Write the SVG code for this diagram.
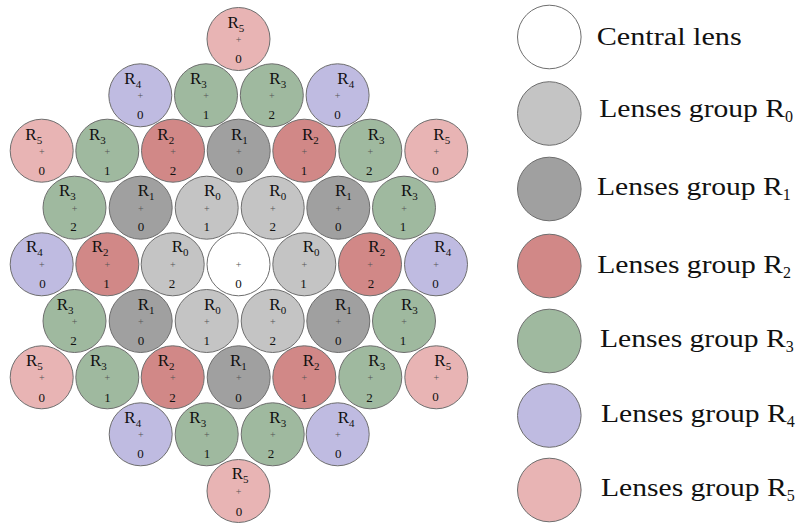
<svg xmlns="http://www.w3.org/2000/svg" width="798" height="523" viewBox="0 0 798 523">
<style>
circle{stroke:#6e6e6e;stroke-width:1}
.c{fill:#ffffff}.r0{fill:#c4c4c4}.r1{fill:#a0a0a0}.r2{fill:#d18887}.r3{fill:#9fb99f}.r4{fill:#bfbbe1}.r5{fill:#e8b4b4}
text{font-family:"Liberation Serif","Times New Roman",serif;fill:#111}
.lb{font-size:17px}
.sb{font-size:11px}
.pl{font-size:10px;fill:#555;text-anchor:middle}
.nm{font-size:13px;text-anchor:middle}
.lg{font-size:25px}
.lgs{font-size:16px}
</style>
<g id="lenses">
<g id="n0"><circle class="r5" cx="238.5" cy="39" r="31.5"/><text class="lb" x="227.5" y="28"><tspan>R</tspan><tspan class="sb" dy="4">5</tspan></text><text class="pl" x="238.5" y="43">+</text><text class="nm" x="238.5" y="63">0</text></g>

<g id="n1"><circle class="r4" cx="140.3" cy="95.3" r="31.5"/><text class="lb" x="124.3" y="83.8"><tspan>R</tspan><tspan class="sb" dy="4">4</tspan></text><text class="pl" x="140.3" y="99.3">+</text><text class="nm" x="140.3" y="119.3">0</text></g>
<g id="n2"><circle class="r3" cx="206" cy="95.3" r="31.5"/><text class="lb" x="190" y="83.8"><tspan>R</tspan><tspan class="sb" dy="4">3</tspan></text><text class="pl" x="206" y="99.3">+</text><text class="nm" x="206" y="119.3">1</text></g>
<g id="n3"><circle class="r3" cx="271.8" cy="95.3" r="31.5"/><text class="lb" x="269.3" y="83.8"><tspan>R</tspan><tspan class="sb" dy="4">3</tspan></text><text class="pl" x="271.8" y="99.3">+</text><text class="nm" x="271.8" y="119.3">2</text></g>
<g id="n4"><circle class="r4" cx="337.6" cy="95.3" r="31.5"/><text class="lb" x="337.3" y="83.8"><tspan>R</tspan><tspan class="sb" dy="4">4</tspan></text><text class="pl" x="337.6" y="99.3">+</text><text class="nm" x="337.6" y="119.3">0</text></g>

<g id="n5"><circle class="r5" cx="41.7" cy="150.7" r="31.5"/><text class="lb" x="25.3" y="139.7"><tspan>R</tspan><tspan class="sb" dy="4">5</tspan></text><text class="pl" x="41.7" y="154.7">+</text><text class="nm" x="41.7" y="175">0</text></g>
<g id="n6"><circle class="r3" cx="107.3" cy="150.7" r="31.5"/><text class="lb" x="89" y="139.7"><tspan>R</tspan><tspan class="sb" dy="4">3</tspan></text><text class="pl" x="107.3" y="154.7">+</text><text class="nm" x="107.3" y="175">1</text></g>
<g id="n7"><circle class="r2" cx="173" cy="150.7" r="31.5"/><text class="lb" x="157.3" y="139.7"><tspan>R</tspan><tspan class="sb" dy="4">2</tspan></text><text class="pl" x="173" y="154.7">+</text><text class="nm" x="173" y="175">2</text></g>
<g id="n8"><circle class="r1" cx="238.7" cy="150.7" r="31.5"/><text class="lb" x="231" y="139.7"><tspan>R</tspan><tspan class="sb" dy="4">1</tspan></text><text class="pl" x="238.7" y="154.7">+</text><text class="nm" x="239.5" y="175">0</text></g>
<g id="n9"><circle class="r2" cx="304.3" cy="150.7" r="31.5"/><text class="lb" x="302" y="139.7"><tspan>R</tspan><tspan class="sb" dy="4">2</tspan></text><text class="pl" x="304.3" y="154.7">+</text><text class="nm" x="304" y="175">1</text></g>
<g id="n10"><circle class="r3" cx="370.3" cy="150.7" r="31.5"/><text class="lb" x="367.7" y="139.7"><tspan>R</tspan><tspan class="sb" dy="4">3</tspan></text><text class="pl" x="370.3" y="154.7">+</text><text class="nm" x="369.3" y="175">2</text></g>
<g id="n11"><circle class="r5" cx="436.3" cy="150.7" r="31.5"/><text class="lb" x="433.3" y="139.7"><tspan>R</tspan><tspan class="sb" dy="4">5</tspan></text><text class="pl" x="436.3" y="154.7">+</text><text class="nm" x="435.5" y="175">0</text></g>

<g id="n12"><circle class="r3" cx="74.5" cy="207.7" r="31.5"/><text class="lb" x="59" y="196"><tspan>R</tspan><tspan class="sb" dy="4">3</tspan></text><text class="pl" x="74.5" y="211.7">+</text><text class="nm" x="73.5" y="230.5">2</text></g>
<g id="n13"><circle class="r1" cx="140.7" cy="207.7" r="31.5"/><text class="lb" x="137.7" y="196"><tspan>R</tspan><tspan class="sb" dy="4">1</tspan></text><text class="pl" x="140.7" y="211.7">+</text><text class="nm" x="141" y="230.5">0</text></g>
<g id="n14"><circle class="r0" cx="206.7" cy="207.7" r="31.5"/><text class="lb" x="204" y="196"><tspan>R</tspan><tspan class="sb" dy="4">0</tspan></text><text class="pl" x="206.7" y="211.7">+</text><text class="nm" x="206.7" y="230.5">1</text></g>
<g id="n15"><circle class="r0" cx="272.7" cy="207.7" r="31.5"/><text class="lb" x="269.3" y="196"><tspan>R</tspan><tspan class="sb" dy="4">0</tspan></text><text class="pl" x="272.7" y="211.7">+</text><text class="nm" x="272.7" y="230.5">2</text></g>
<g id="n16"><circle class="r1" cx="338.3" cy="207.7" r="31.5"/><text class="lb" x="335" y="196"><tspan>R</tspan><tspan class="sb" dy="4">1</tspan></text><text class="pl" x="338.3" y="211.7">+</text><text class="nm" x="338.3" y="230.5">0</text></g>
<g id="n17"><circle class="r3" cx="404" cy="207.7" r="31.5"/><text class="lb" x="401" y="196"><tspan>R</tspan><tspan class="sb" dy="4">3</tspan></text><text class="pl" x="404" y="211.7">+</text><text class="nm" x="403" y="230.5">1</text></g>

<g id="n18"><circle class="r4" cx="41.7" cy="264.3" r="31.5"/><text class="lb" x="26" y="252"><tspan>R</tspan><tspan class="sb" dy="4">4</tspan></text><text class="pl" x="41.7" y="268.3">+</text><text class="nm" x="42.5" y="288.3">0</text></g>
<g id="n19"><circle class="r2" cx="107.3" cy="264.3" r="31.5"/><text class="lb" x="91.7" y="252"><tspan>R</tspan><tspan class="sb" dy="4">2</tspan></text><text class="pl" x="107.3" y="268.3">+</text><text class="nm" x="106.5" y="288.3">1</text></g>
<g id="n20"><circle class="r0" cx="172.7" cy="264.3" r="31.5"/><text class="lb" x="171.7" y="252"><tspan>R</tspan><tspan class="sb" dy="4">0</tspan></text><text class="pl" x="172.7" y="268.3">+</text><text class="nm" x="172" y="288.3">2</text></g>
<g id="n21"><circle class="c" cx="238.5" cy="264.3" r="31.5"/><text class="pl" x="238.5" y="268.3">+</text><text class="nm" x="238.5" y="288.3">0</text></g>
<g id="n22"><circle class="r0" cx="304.3" cy="264.3" r="31.5"/><text class="lb" x="302.7" y="252"><tspan>R</tspan><tspan class="sb" dy="4">0</tspan></text><text class="pl" x="304.3" y="268.3">+</text><text class="nm" x="303.5" y="288.3">1</text></g>
<g id="n23"><circle class="r2" cx="370" cy="264.3" r="31.5"/><text class="lb" x="368.3" y="252"><tspan>R</tspan><tspan class="sb" dy="4">2</tspan></text><text class="pl" x="370" y="268.3">+</text><text class="nm" x="371" y="288.3">2</text></g>
<g id="n24"><circle class="r4" cx="436" cy="264.3" r="31.5"/><text class="lb" x="434.3" y="252"><tspan>R</tspan><tspan class="sb" dy="4">4</tspan></text><text class="pl" x="436" y="268.3">+</text><text class="nm" x="435.5" y="288.3">0</text></g>

<g id="n25"><circle class="r3" cx="74.5" cy="321" r="31.5"/><text class="lb" x="56.7" y="309.5"><tspan>R</tspan><tspan class="sb" dy="4">3</tspan></text><text class="pl" x="74.5" y="325">+</text><text class="nm" x="73.5" y="344.5">2</text></g>
<g id="n26"><circle class="r1" cx="140.7" cy="321" r="31.5"/><text class="lb" x="137.7" y="309.5"><tspan>R</tspan><tspan class="sb" dy="4">1</tspan></text><text class="pl" x="140.7" y="325">+</text><text class="nm" x="141" y="344.5">0</text></g>
<g id="n27"><circle class="r0" cx="206.7" cy="321" r="31.5"/><text class="lb" x="204" y="309.5"><tspan>R</tspan><tspan class="sb" dy="4">0</tspan></text><text class="pl" x="206.7" y="325">+</text><text class="nm" x="206.7" y="344.5">1</text></g>
<g id="n28"><circle class="r0" cx="272.7" cy="321" r="31.5"/><text class="lb" x="269.3" y="309.5"><tspan>R</tspan><tspan class="sb" dy="4">0</tspan></text><text class="pl" x="272.7" y="325">+</text><text class="nm" x="272.7" y="344.5">2</text></g>
<g id="n29"><circle class="r1" cx="338.3" cy="321" r="31.5"/><text class="lb" x="335" y="309.5"><tspan>R</tspan><tspan class="sb" dy="4">1</tspan></text><text class="pl" x="338.3" y="325">+</text><text class="nm" x="338.3" y="344.5">0</text></g>
<g id="n30"><circle class="r3" cx="404" cy="321" r="31.5"/><text class="lb" x="401" y="309.5"><tspan>R</tspan><tspan class="sb" dy="4">3</tspan></text><text class="pl" x="404" y="325">+</text><text class="nm" x="403" y="344.5">1</text></g>

<g id="n31"><circle class="r5" cx="41.7" cy="377.3" r="31.5"/><text class="lb" x="26" y="366"><tspan>R</tspan><tspan class="sb" dy="4">5</tspan></text><text class="pl" x="41.7" y="381.3">+</text><text class="nm" x="41.7" y="401.7">0</text></g>
<g id="n32"><circle class="r3" cx="107.3" cy="377.3" r="31.5"/><text class="lb" x="90" y="366"><tspan>R</tspan><tspan class="sb" dy="4">3</tspan></text><text class="pl" x="107.3" y="381.3">+</text><text class="nm" x="107.5" y="401.7">1</text></g>
<g id="n33"><circle class="r2" cx="172.7" cy="377.3" r="31.5"/><text class="lb" x="157.7" y="366"><tspan>R</tspan><tspan class="sb" dy="4">2</tspan></text><text class="pl" x="172.7" y="381.3">+</text><text class="nm" x="172.5" y="401.7">2</text></g>
<g id="n34"><circle class="r1" cx="238.7" cy="377.3" r="31.5"/><text class="lb" x="230" y="366"><tspan>R</tspan><tspan class="sb" dy="4">1</tspan></text><text class="pl" x="238.7" y="381.3">+</text><text class="nm" x="238.5" y="401.7">0</text></g>
<g id="n35"><circle class="r2" cx="304.3" cy="377.3" r="31.5"/><text class="lb" x="302.7" y="366"><tspan>R</tspan><tspan class="sb" dy="4">2</tspan></text><text class="pl" x="304.3" y="381.3">+</text><text class="nm" x="304" y="401.7">1</text></g>
<g id="n36"><circle class="r3" cx="370.3" cy="377.3" r="31.5"/><text class="lb" x="368.3" y="366"><tspan>R</tspan><tspan class="sb" dy="4">3</tspan></text><text class="pl" x="370.3" y="381.3">+</text><text class="nm" x="369.5" y="401.7">2</text></g>
<g id="n37"><circle class="r5" cx="436.3" cy="377.3" r="31.5"/><text class="lb" x="434.3" y="366"><tspan>R</tspan><tspan class="sb" dy="4">5</tspan></text><text class="pl" x="436.3" y="381.3">+</text><text class="nm" x="435.5" y="400.5">0</text></g>

<g id="n38"><circle class="r4" cx="140.7" cy="434.3" r="31.5"/><text class="lb" x="124.3" y="422.7"><tspan>R</tspan><tspan class="sb" dy="4">4</tspan></text><text class="pl" x="140.7" y="438.3">+</text><text class="nm" x="140.5" y="458.3">0</text></g>
<g id="n39"><circle class="r3" cx="206.7" cy="434.3" r="31.5"/><text class="lb" x="189.3" y="422.7"><tspan>R</tspan><tspan class="sb" dy="4">3</tspan></text><text class="pl" x="206.7" y="438.3">+</text><text class="nm" x="207" y="458.3">1</text></g>
<g id="n40"><circle class="r3" cx="272.7" cy="434.3" r="31.5"/><text class="lb" x="269.3" y="422.7"><tspan>R</tspan><tspan class="sb" dy="4">3</tspan></text><text class="pl" x="272.7" y="438.3">+</text><text class="nm" x="271" y="458.3">2</text></g>
<g id="n41"><circle class="r4" cx="337.7" cy="434.3" r="31.5"/><text class="lb" x="337.7" y="422.7"><tspan>R</tspan><tspan class="sb" dy="4">4</tspan></text><text class="pl" x="337.7" y="438.3">+</text><text class="nm" x="338.3" y="458.3">0</text></g>

<g id="n42"><circle class="r5" cx="238.5" cy="491" r="31.5"/><text class="lb" x="231.7" y="479.3"><tspan>R</tspan><tspan class="sb" dy="4">5</tspan></text><text class="pl" x="238.5" y="495">+</text><text class="nm" x="239" y="516">0</text></g>
</g>

<g id="legend">
<g id="lg-c"><circle class="c" cx="549.3" cy="37" r="31.8"/><text class="lg" x="596.7" y="45" textLength="145" lengthAdjust="spacingAndGlyphs">Central lens</text></g>
<g id="lg-r0"><circle class="r0" cx="549.3" cy="113.5" r="31.8"/><text class="lg" x="599.3" y="117" textLength="185.7" lengthAdjust="spacingAndGlyphs">Lenses group R</text><text class="lgs" x="785" y="122">0</text></g>
<g id="lg-r1"><circle class="r1" cx="549.3" cy="189" r="31.8"/><text class="lg" x="597" y="195" textLength="185.7" lengthAdjust="spacingAndGlyphs">Lenses group R</text><text class="lgs" x="782.7" y="200">1</text></g>
<g id="lg-r2"><circle class="r2" cx="549.3" cy="266" r="31.8"/><text class="lg" x="597.3" y="273" textLength="185.7" lengthAdjust="spacingAndGlyphs">Lenses group R</text><text class="lgs" x="783" y="278">2</text></g>
<g id="lg-r3"><circle class="r3" cx="549.3" cy="341" r="31.8"/><text class="lg" x="600" y="347" textLength="185.7" lengthAdjust="spacingAndGlyphs">Lenses group R</text><text class="lgs" x="785.7" y="352">3</text></g>
<g id="lg-r4"><circle class="r4" cx="549.3" cy="415.5" r="31.8"/><text class="lg" x="601" y="421.5" textLength="185.7" lengthAdjust="spacingAndGlyphs">Lenses group R</text><text class="lgs" x="786.7" y="426.5">4</text></g>
<g id="lg-r5"><circle class="r5" cx="549.3" cy="490" r="31.8"/><text class="lg" x="601" y="495.7" textLength="185.7" lengthAdjust="spacingAndGlyphs">Lenses group R</text><text class="lgs" x="786.7" y="500.7">5</text></g>
</g>
</svg>
